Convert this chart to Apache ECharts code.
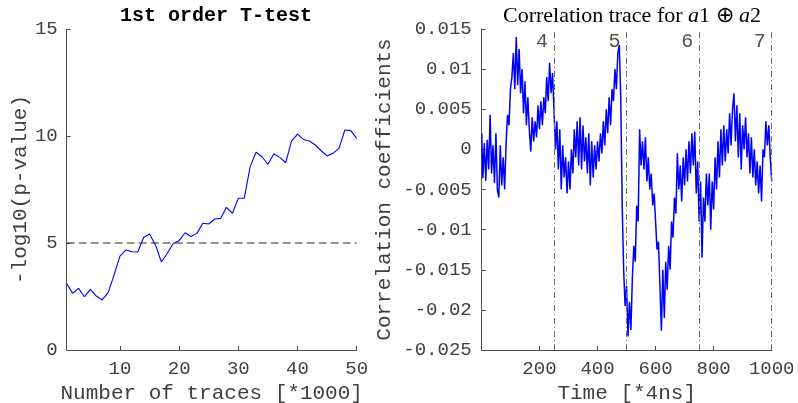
<!DOCTYPE html>
<html>
<head>
<meta charset="utf-8">
<script src="https://cdn.jsdelivr.net/npm/echarts@6/dist/echarts.min.js"></script>
<style>
  html, body { margin: 0; padding: 0; background: #fff; }
  #chart { width: 798px; height: 403px; }
</style>
</head>
<body>
<div id="chart"></div>
<script>
// Left panel: -log10(p-value) of the 1st order T-test versus number of traces (x1000)
const traceCounts = [1,2,3,4,5,6,7,8,9,10,11,12,13,14,15,16,17,18,19,20,21,22,23,24,25,
                     26,27,28,29,30,31,32,33,34,35,36,37,38,39,40,41,42,43,44,45,46,47,48,49,50];
const logP = [3.1,2.65,2.88,2.49,2.83,2.52,2.34,2.68,3.5,4.39,4.67,4.59,4.58,5.26,5.42,4.91,4.11,4.52,4.98,5.11,
              5.48,5.3,5.45,5.92,5.89,6.12,6.15,6.67,6.39,7.09,7.09,8.57,9.24,9.03,8.68,9.17,9.0,8.75,9.77,10.09,
              9.84,9.77,9.58,9.31,9.07,9.19,9.42,10.28,10.25,9.89];
const threshold = 5;
const leftXTicks = [10, 20, 30, 40, 50];

// Right panel: correlation trace, one value per sample (t = 1, 5, 10, ..., 1000)
const sampleStep = 5;
const corr = [
  0.0020,-0.0036,0.0008,-0.0039,0.0012,-0.0025,0.0043,-0.0030,0.0005,-0.0042,
  0.0020,-0.0050,-0.0060,0.0005,-0.0045,-0.0010,-0.0050,0.0008,0.0043,0.0030,
  0.0075,0.0090,0.0120,0.0075,0.0140,0.0080,0.0125,0.0070,0.0100,0.0045,
  0.0085,0.0030,0.0065,0.0025,-0.0003,0.0040,0.0010,0.0035,0.0015,0.0055,
  0.0025,0.0060,0.0030,0.0065,0.0045,0.0090,0.0060,0.0108,0.0070,0.0095,
  0.0050,0.0000,0.0035,-0.0025,0.0025,-0.0050,0.0005,-0.0035,-0.0010,-0.0055,
  -0.0015,-0.0050,0.0000,-0.0030,0.0025,-0.0010,0.0035,-0.0020,0.0040,-0.0025,
  0.0030,-0.0015,0.0015,-0.0030,0.0020,-0.0045,0.0010,-0.0035,0.0005,-0.0025,
  0.0010,-0.0015,0.0020,-0.0005,0.0035,0.0005,0.0050,0.0020,0.0065,0.0030,
  0.0075,0.0060,0.0100,0.0075,0.0120,0.0130,0.0065,-0.0070,-0.0150,-0.0195,
  -0.0170,-0.0233,-0.0190,-0.0225,-0.0160,-0.0120,-0.0140,-0.0070,-0.0090,0.0025,
  -0.0020,0.0010,-0.0025,0.0015,-0.0040,-0.0010,-0.0050,-0.0030,-0.0070,-0.0055,
  -0.0090,-0.0125,-0.0115,-0.0170,-0.0226,-0.0150,-0.0210,-0.0140,-0.0175,-0.0120,
  -0.0150,-0.0090,-0.0110,-0.0060,-0.0080,-0.0005,-0.0050,-0.0020,-0.0065,-0.0010,
  -0.0045,0.0000,-0.0040,0.0010,-0.0030,0.0020,-0.0020,0.0022,-0.0055,-0.0015,
  -0.0090,-0.0040,-0.0135,-0.0060,-0.0090,-0.0030,-0.0070,-0.0030,-0.0100,-0.0040,
  -0.0075,-0.0010,-0.0050,0.0010,-0.0035,0.0025,-0.0020,0.0030,-0.0015,0.0025,
  -0.0005,0.0045,0.0005,0.0050,0.0070,0.0010,0.0055,-0.0010,0.0045,-0.0025,
  0.0030,0.0000,0.0040,-0.0010,0.0020,-0.0030,0.0015,-0.0035,0.0000,-0.0045,
  -0.0015,-0.0055,-0.0020,-0.0065,0.0000,-0.0010,0.0035,0.0005,0.0030,-0.0010,
  -0.0040
];
const rightXTicks = [200, 400, 600, 800, 1000];
const roundMarks = [250, 500, 750, 1000];
const roundLabels = ['4', '5', '6', '7'];

const mono = 'Liberation Mono, Courier New, monospace';
const serif = 'Liberation Serif, Times New Roman, serif';
const textGray = '#404040';
const axisGray = '#4d4d4d';

const tracePoints = corr.map((v, i) => [i === 0 ? 1 : i * sampleStep, v]);
const logPPoints = traceCounts.map((n, i) => [n, logP[i]]);

function axisBase() {
  return {
    axisLine: { show: true, onZero: false, lineStyle: { color: axisGray, width: 1 } },
    axisTick: { show: true, inside: true, length: 4, lineStyle: { color: axisGray } },
    splitLine: { show: false },
    axisLabel: { color: textGray, fontFamily: mono, fontSize: 19 },
    nameTextStyle: { color: textGray, fontFamily: mono, fontSize: 21 }
  };
}

const chart = echarts.init(document.getElementById('chart'), null, { renderer: 'canvas' });
chart.setOption({
  animation: false,
  backgroundColor: '#ffffff',
  title: [
    {
      text: '1st order T-test',
      left: 211, top: 1, textAlign: 'center',
      textStyle: { fontFamily: mono, fontWeight: 'bold', fontSize: 20, color: '#000' }
    },
    {
      text: 'Correlation trace for {i|a}1 ⊕ {i|a}2',
      left: 627, top: 0, textAlign: 'center',
      textStyle: {
        fontFamily: serif, fontWeight: 'normal', fontSize: 22, color: '#000',
        rich: { i: { fontFamily: serif, fontStyle: 'italic', fontSize: 22, color: '#000' } }
      }
    }
  ],
  grid: [
    { left: 66.7, right: 441.3, top: 29, bottom: 53, containLabel: false, outerBoundsMode: 'none' },
    { left: 481.7, right: 26.3, top: 29, bottom: 53, containLabel: false, outerBoundsMode: 'none' }
  ],
  xAxis: [
    Object.assign(axisBase(), {
      gridIndex: 0, type: 'value', min: 1, max: 50,
      name: 'Number of traces [*1000]', nameLocation: 'middle', nameGap: 30,
      axisLabel: { color: textGray, fontFamily: mono, fontSize: 19, margin: 9, customValues: leftXTicks },
      axisTick: { show: true, inside: true, length: 4, lineStyle: { color: axisGray }, customValues: leftXTicks }
    }),
    Object.assign(axisBase(), {
      gridIndex: 1, type: 'value', min: 1, max: 1000,
      name: 'Time [*4ns]', nameLocation: 'middle', nameGap: 30,
      axisLabel: {
        color: textGray, fontFamily: mono, fontSize: 19, margin: 9, customValues: rightXTicks,
        formatter: v => String(v)
      },
      axisTick: { show: true, inside: true, length: 4, lineStyle: { color: axisGray }, customValues: rightXTicks }
    })
  ],
  yAxis: [
    Object.assign(axisBase(), {
      gridIndex: 0, type: 'value', min: 0, max: 15, interval: 5,
      name: '-log10(p-value)', nameLocation: 'middle', nameGap: 34,
      axisLabel: { color: textGray, fontFamily: mono, fontSize: 19, margin: 9 }
    }),
    Object.assign(axisBase(), {
      gridIndex: 1, type: 'value', min: -0.025, max: 0.015, interval: 0.005,
      name: 'Correlation coefficients', nameLocation: 'middle', nameGap: 87,
      axisLabel: {
        color: textGray, fontFamily: mono, fontSize: 19, margin: 10,
        formatter: v => String(parseFloat(v.toFixed(3)))
      }
    })
  ],
  series: [
    {
      type: 'line', xAxisIndex: 0, yAxisIndex: 0, data: logPPoints,
      showSymbol: false, silent: true,
      lineStyle: { color: '#0000ff', width: 1.1 }
    },
    {
      type: 'line', xAxisIndex: 0, yAxisIndex: 0,
      data: [[traceCounts[0], threshold], [traceCounts[traceCounts.length - 1], threshold]],
      showSymbol: false, silent: true,
      lineStyle: { color: '#262626', width: 1, type: [8, 4] }
    },
    {
      type: 'line', xAxisIndex: 1, yAxisIndex: 1, data: tracePoints,
      showSymbol: false, silent: true, sampling: null,
      lineStyle: { color: '#0000ff', width: 1.5 },
      markLine: {
        silent: true, symbol: ['none', 'none'], animation: false,
        label: { show: false },
        lineStyle: { color: '#6e6e6e', width: 1, type: [6, 3, 1, 3] },
        data: roundMarks.map(t => ({ xAxis: t }))
      }
    },
    {
      type: 'scatter', xAxisIndex: 1, yAxisIndex: 1,
      data: roundMarks.map((t, i) => ({ value: [t, 0.0134], name: roundLabels[i] })),
      symbolSize: 0, silent: true,
      label: {
        show: true, position: 'left', distance: 6,
        formatter: p => p.name,
        fontFamily: mono, fontSize: 20, color: '#262626'
      }
    }
  ]
});
</script>
</body>
</html>
